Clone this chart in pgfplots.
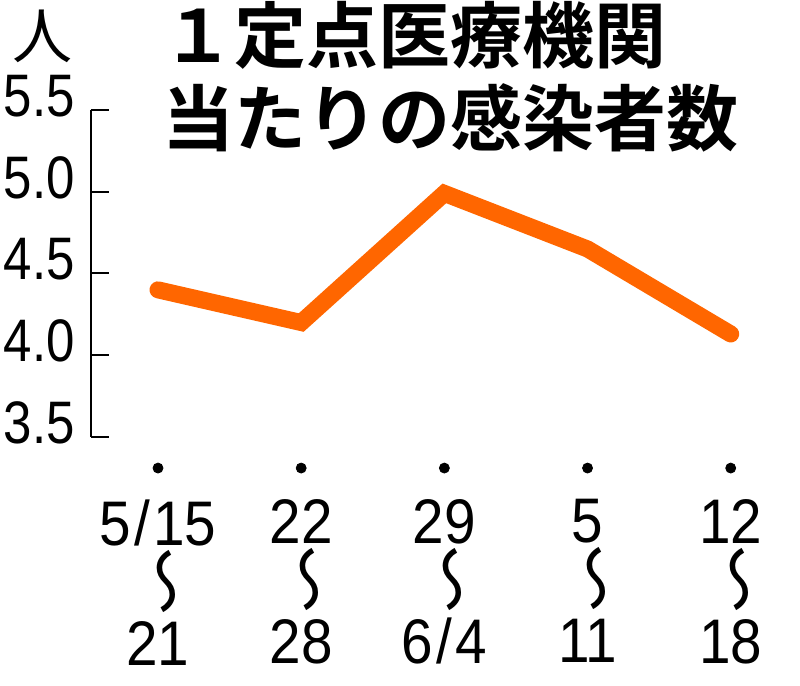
\documentclass[border=0pt]{standalone}
\usepackage{fontspec}
\usepackage{graphicx}
\usepackage{pgfplots}
\pgfplotsset{compat=1.18}
\setmainfont{Liberation Sans}
\newfontfamily\ytfont[FakeStretch=0.85]{Liberation Sans}
\newfontfamily\xtfont[FakeStretch=0.9]{Liberation Sans}
\newfontfamily\cjk{Noto Sans CJK JP}
\newfontfamily\cjkb{Noto Sans CJK JP Bold}
\definecolor{lineorange}{RGB}{255,102,0}
\newcommand\wv{\smash{\raisebox{-5pt}{\cjk\fontsize{34}{30}\selectfont\reflectbox{\rotatebox{90}{〜}}}}}
\newcommand\dsl{\kern1.5pt/\kern1.5pt}
\begin{document}
\begin{tikzpicture}
\useasboundingbox (0,0) rectangle (400pt,343pt);
\begin{axis}[
  at={(45.5pt,124.5pt)}, anchor=south west,
  scale only axis, width=348.5pt, height=163.5pt,
  xmin=-0.468, xmax=4.4, ymin=3.5, ymax=5.5,
  axis y line*=left, axis x line*=bottom,
  x axis line style={draw=none},
  y axis line style={line width=1pt, black},
  ytick={3.5,4,4.5,5,5.5},
  yticklabels={3.5,4.0,4.5,5.0,5.5},
  tick align=inside,
  major tick length=9pt,
  ytick style={line width=1pt, black},
  xtick={0,1,2,3,4},
  xtick style={draw=none},
  xticklabels={{5\dsl15\\\wv\\21},{22\\\wv\\28},{29\\\wv\\6\dsl4},{5\\\wv\\11},{12\\\wv\\18}},
  yticklabel style={font=\fontsize{30}{30}\ytfont, anchor=east, inner sep=0pt, xshift=-8pt, yshift=7pt},
  xticklabel style={font=\fontsize{31.5}{30}\xtfont, align=center, anchor=north, inner sep=0pt, yshift=-31pt},
  clip=false,
]
\addplot[lineorange, line width=8.5pt, line cap=round, line join=miter]
  coordinates {(0,4.40) (1,4.20) (2,4.99) (3,4.65) (4,4.13)};
\addplot[only marks, mark=*, mark size=2.5pt, black]
  coordinates {(0,3.31) (1,3.31) (2,3.31) (3,3.31) (4,3.31)};
\end{axis}
\node[anchor=west, inner sep=0pt, font=\fontsize{36}{36}\cjkb] at (81pt,325.5pt) {１定点医療機関};
\node[anchor=west, inner sep=0pt, font=\fontsize{36}{36}\cjkb] at (81pt,284pt) {当たりの感染者数};
\node[inner sep=0pt, font=\fontsize{30}{30}\cjk] at (21pt,325pt) {人};
\end{tikzpicture}
\end{document}
